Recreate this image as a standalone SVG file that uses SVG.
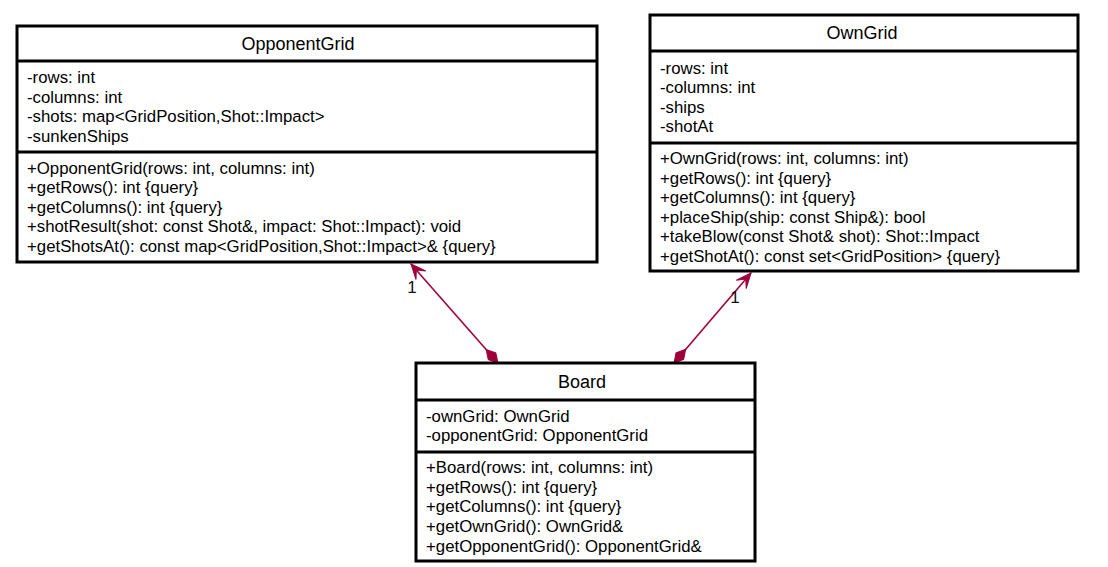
<svg xmlns="http://www.w3.org/2000/svg" width="1108" height="567" viewBox="0 0 1108 567">
<style>
.box{fill:#fff;stroke:#000;stroke-width:3}
.sep{stroke:#000;stroke-width:3}
.t{font-family:"Liberation Sans",Arial,sans-serif;font-size:16.8px;fill:#000}
.h{font-family:"Liberation Sans",Arial,sans-serif;font-size:18px;fill:#000;text-anchor:middle}
.m{font-family:"Liberation Sans",Arial,sans-serif;font-size:17px;fill:#111;text-anchor:middle}
.c{stroke:#a0003a;stroke-width:1.6;fill:none}
</style>
<defs>
<marker id="dia" markerUnits="userSpaceOnUse" markerWidth="20" markerHeight="12" refX="0" refY="0" viewBox="0 -6 20 12" orient="auto" overflow="visible">
<path d="M0,0 L9,-5 L18,0 L9,5 Z" fill="#a0003a" stroke="#a0003a" stroke-width="1"/>
</marker>
<marker id="arr" markerUnits="userSpaceOnUse" markerWidth="18" markerHeight="14" refX="0" refY="0" viewBox="-16 -7 18 14" orient="auto" overflow="visible">
<path d="M0,0 L-15,-6.5 L-8,0 L-15,6.5 Z" fill="#a0003a" stroke="#a0003a" stroke-width="1" stroke-linejoin="miter"/>
</marker>
</defs>
<rect width="1108" height="567" fill="#fff"/>

<g id="connectors">
<line class="c" x1="498" y1="363" x2="411" y2="264" marker-start="url(#dia)" marker-end="url(#arr)"/>
<text class="m" x="412" y="293">1</text>
<line class="c" x1="674" y1="363" x2="751" y2="273" marker-start="url(#dia)" marker-end="url(#arr)"/>
<text class="m" x="735" y="303">1</text>
</g>

<g id="OpponentGrid">
<rect class="box" x="17" y="26" width="580" height="236"/>
<line class="sep" x1="17" y1="61" x2="597" y2="61"/>
<line class="sep" x1="17" y1="152" x2="597" y2="152"/>
<text class="h" x="298" y="50">OpponentGrid</text>
<text class="t" x="27" y="83">-rows: int</text>
<text class="t" x="27" y="103">-columns: int</text>
<text class="t" x="27" y="122">-shots: map&lt;GridPosition,Shot::Impact&gt;</text>
<text class="t" x="27" y="142">-sunkenShips</text>
<text class="t" x="27" y="174">+OpponentGrid(rows: int, columns: int)</text>
<text class="t" x="27" y="193">+getRows(): int {query}</text>
<text class="t" x="27" y="213">+getColumns(): int {query}</text>
<text class="t" x="27" y="232">+shotResult(shot: const Shot&amp;, impact: Shot::Impact): void</text>
<text class="t" x="27" y="252">+getShotsAt(): const map&lt;GridPosition,Shot::Impact&gt;&amp; {query}</text>
</g>

<g id="OwnGrid">
<rect class="box" x="650" y="15" width="428" height="256"/>
<line class="sep" x1="650" y1="51" x2="1078" y2="51"/>
<line class="sep" x1="650" y1="143" x2="1078" y2="143"/>
<text class="h" x="862" y="39">OwnGrid</text>
<text class="t" x="660" y="74">-rows: int</text>
<text class="t" x="660" y="93">-columns: int</text>
<text class="t" x="660" y="113">-ships</text>
<text class="t" x="660" y="132">-shotAt</text>
<text class="t" x="660" y="164">+OwnGrid(rows: int, columns: int)</text>
<text class="t" x="660" y="184">+getRows(): int {query}</text>
<text class="t" x="660" y="203">+getColumns(): int {query}</text>
<text class="t" x="660" y="223">+placeShip(ship: const Ship&amp;): bool</text>
<text class="t" x="660" y="242">+takeBlow(const Shot&amp; shot): Shot::Impact</text>
<text class="t" x="660" y="262">+getShotAt(): const set&lt;GridPosition&gt; {query}</text>
</g>

<g id="Board">
<rect class="box" x="416" y="363" width="339" height="198"/>
<line class="sep" x1="416" y1="400" x2="755" y2="400"/>
<line class="sep" x1="416" y1="452" x2="755" y2="452"/>
<text class="h" x="582" y="388">Board</text>
<text class="t" x="426" y="422">-ownGrid: OwnGrid</text>
<text class="t" x="426" y="441">-opponentGrid: OpponentGrid</text>
<text class="t" x="426" y="473">+Board(rows: int, columns: int)</text>
<text class="t" x="426" y="493">+getRows(): int {query}</text>
<text class="t" x="426" y="512">+getColumns(): int {query}</text>
<text class="t" x="426" y="532">+getOwnGrid(): OwnGrid&amp;</text>
<text class="t" x="426" y="552">+getOpponentGrid(): OpponentGrid&amp;</text>
</g>
</svg>
